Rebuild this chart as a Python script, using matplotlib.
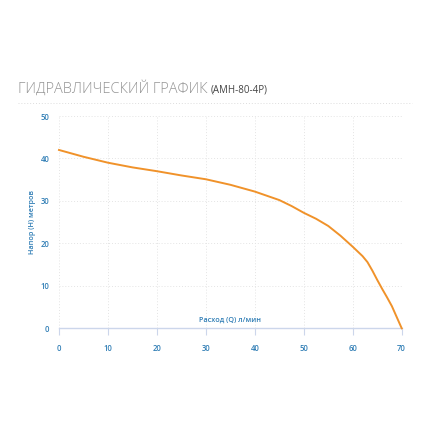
import matplotlib
matplotlib.use('Agg')
import matplotlib.pyplot as plt

# Pump curve
flow = [0, 5, 10, 15, 20, 25, 30, 35, 40, 45, 47.5, 50, 52.5, 55, 57.5, 60, 62, 63, 64, 65, 66, 67, 68, 69, 70]
head = [42.0, 40.4, 39.0, 37.9, 37.0, 36.0, 35.1, 33.8, 32.2, 30.2, 28.8, 27.2, 25.8, 24.1, 21.8,
        19.2, 17.0, 15.6, 13.6, 11.4, 9.3, 7.3, 5.2, 2.6, 0.0]

x_ticks = [0, 10, 20, 30, 40, 50, 60, 70]
y_ticks = [0, 10, 20, 30, 40, 50]

title_main = 'ГИДРАВЛИЧЕСКИЙ ГРАФИК'
title_sub = '(АМН-80-4Р)'
x_label = 'Расход (Q) л/мин'
y_label = 'Напор (Н) метров'

blue = '#2f7db5'
orange = '#f0922a'

plt.rcParams['font.family'] = ['Open Sans', 'DejaVu Sans']

fig = plt.figure(figsize=(4.3, 4.3), dpi=100)
ax = fig.add_axes([59 / 430, 1 - 328.3 / 430, (401.7 - 59) / 430, (328.3 - 116) / 430])

ax.plot(flow, head, color=orange, linewidth=1.4, solid_joinstyle='round', clip_on=False, zorder=3)

ax.set_xlim(0, 70)
ax.set_ylim(0, 50)
ax.set_xticks(x_ticks)
ax.set_yticks(y_ticks)
ax.grid(True, color='#e4e4e4', linestyle=(0, (1, 2)), linewidth=0.7)

for s in ['top', 'right', 'left']:
    ax.spines[s].set_visible(False)
ax.spines['bottom'].set_color('#ccd6eb')
ax.spines['bottom'].set_linewidth(1)

ax.tick_params(axis='x', colors='#ccd6eb', length=5, width=0.8, pad=6, labelsize=5.5, labelcolor=blue)
ax.tick_params(axis='y', length=0, pad=7, labelsize=5.5, labelcolor=blue)
for lab in ax.get_xticklabels() + ax.get_yticklabels():
    lab.set_fontweight('semibold')

ax.text(0.5, 0.022, x_label, transform=ax.transAxes, ha='center', va='bottom',
        fontsize=5.2, color=blue, fontweight='semibold')
fig.text(32 / 430, 1 - 222 / 430, y_label, rotation=90, ha='center', va='center',
         fontsize=5.2, color=blue, fontweight='semibold')

t = fig.text(18 / 430, 1 - 89 / 430, title_main, ha='left', va='center',
             fontsize=10.5, color='#959595', fontweight='light')
fig.canvas.draw()
bb = t.get_window_extent()
fig.text((bb.x1 + 3) / 430, 1 - 90 / 430, title_sub, ha='left', va='center',
         fontsize=7, color='#444444')

fig.add_artist(plt.Line2D([18 / 430, 412 / 430], [1 - 103 / 430, 1 - 103 / 430],
                          color='#dddddd', linestyle=(0, (1, 2)), linewidth=0.7))

fig.savefig('out.png', dpi=100)
